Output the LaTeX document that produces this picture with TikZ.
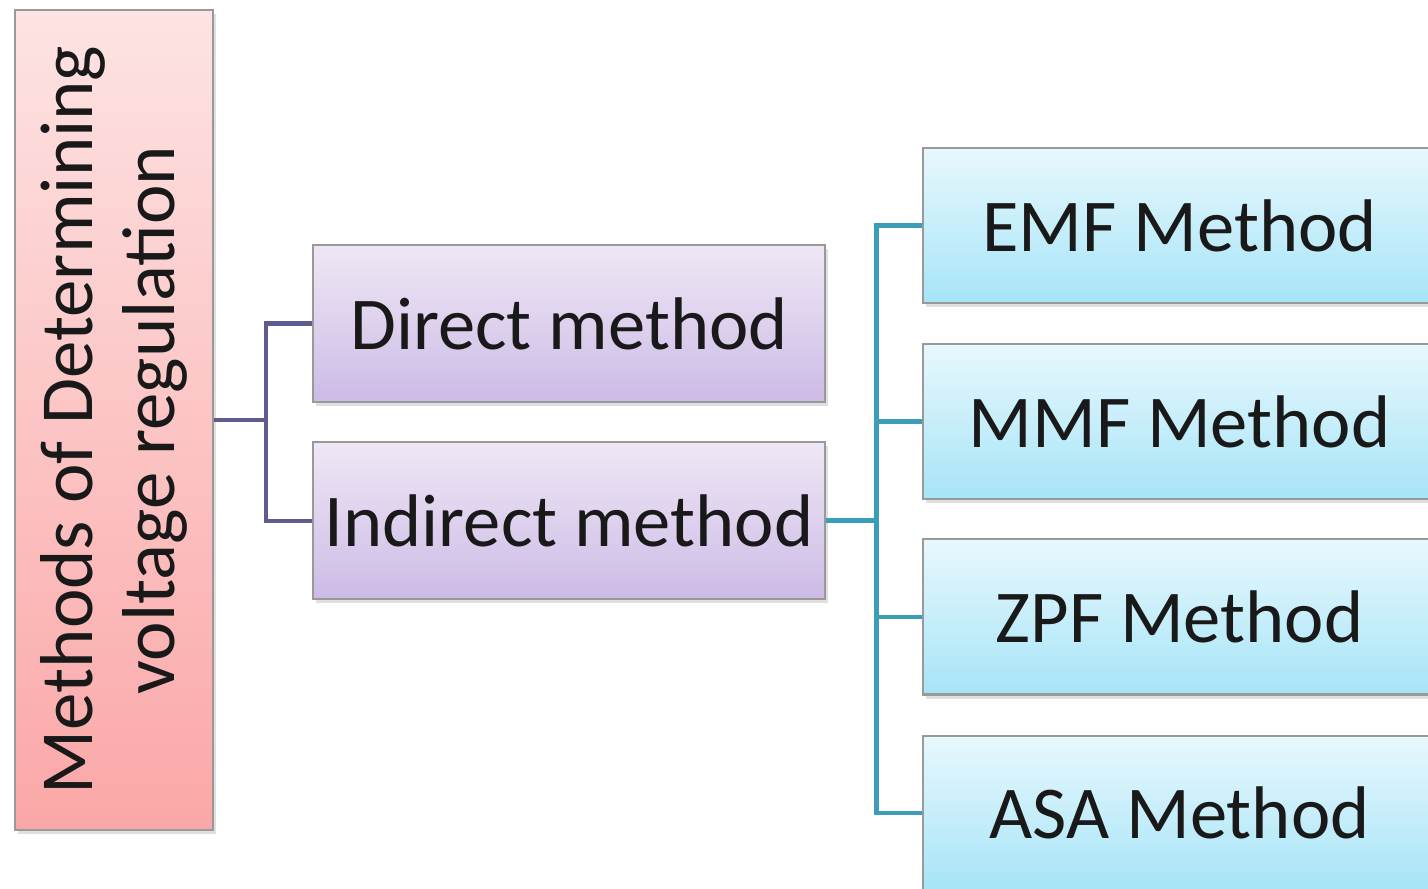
\documentclass[tikz,border=0pt]{standalone}
\usepackage{fontspec}
\setmainfont{Carlito}
\usetikzlibrary{positioning, shadows}
\definecolor{rootTop}{HTML}{FDE3E3}
\definecolor{rootBot}{HTML}{FBA7A7}
\definecolor{midTop}{HTML}{EFE7F5}
\definecolor{midBot}{HTML}{CCBBE6}
\definecolor{leafTop}{HTML}{E8F8FD}
\definecolor{leafBot}{HTML}{A6E4F7}
\definecolor{midLine}{HTML}{5E5C8E}
\definecolor{leafLine}{HTML}{3C9DB8}
\tikzset{
    box/.style = {
        rectangle, draw=black!40, line width=0.6pt, inner xsep=1pt,
        text=black!90, font=\fontsize{21.2}{23.5}\selectfont,
        drop shadow={opacity=0.25, shadow xshift=0.03cm, shadow yshift=-0.04cm}
    },
    rootbox/.style = {
        box, top color=rootTop, bottom color=rootBot,
        minimum width=1.98cm, minimum height=8.2cm
    },
    midbox/.style = {
        box, top color=midTop, bottom color=midBot,
        minimum width=5.12cm, minimum height=1.57cm
    },
    leafbox/.style = {
        box, top color=leafTop, bottom color=leafBot,
        minimum width=5.13cm, minimum height=1.55cm
    },
    midlink/.style = {
        draw=midLine, line width=1.2pt
    },
    leaflink/.style = {
        draw=leafLine, line width=1.3pt
    }
}

\begin{document}
\begin{tikzpicture}[x=0.01cm, y=-0.01cm]

\useasboundingbox (0,0) rectangle (1428,888);
\clip (0,0) rectangle (1428,888);

% left column
\node (root) [rootbox] at (114,420) {};
\node (roottext) [rotate=90, align=center, text=black!90, font=\fontsize{21.3}{23.5}\selectfont] at (root.center) {Methods of Determining\\voltage regulation};

% middle column
\node (direct) [midbox] at (569,323.5) {Direct method};
\node (indirect) [midbox, below=0.38cm of direct] {Indirect method};

% right column
\node (emf) [leafbox] at (1179.5,225.5) {EMF Method};
\node (mmf) [leafbox, below=0.39cm of emf] {MMF Method};
\node (zpf) [leafbox, below=0.38cm of mmf] {ZPF Method};
\node (asa) [leafbox, below=0.39cm of zpf] {ASA Method};

\coordinate (fork1) at ([xshift=0.52cm]root.east);
\coordinate (fork2) at ([xshift=0.5cm]indirect.east);

\draw [midlink] (root.east) -- (fork1);
\draw [midlink] (fork1) |- (direct.west);
\draw [midlink] (fork1) |- (indirect.west);

\draw [leaflink] (indirect.east) -- (fork2);
\draw [leaflink] (fork2) |- (emf.west);
\draw [leaflink] (fork2) |- (mmf.west);
\draw [leaflink] (fork2) |- (zpf.west);
\draw [leaflink] (fork2) |- (asa.west);

\end{tikzpicture}
\end{document}
